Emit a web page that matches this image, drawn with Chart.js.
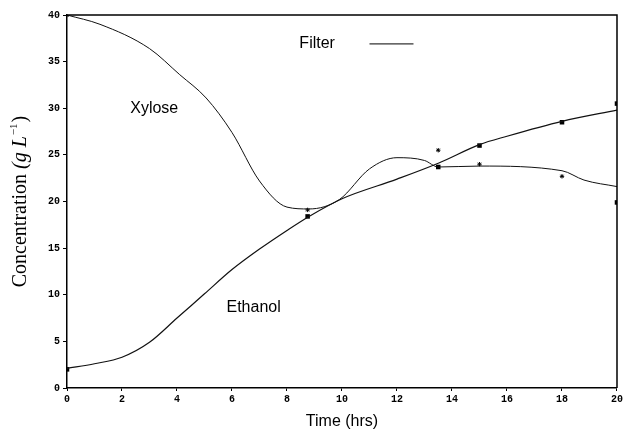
<!DOCTYPE html>
<html lang="en">
<head>
<meta charset="UTF-8">
<title>Xylose / Ethanol - Filter</title>
<script src="https://cdn.jsdelivr.net/npm/chart.js"></script>
<style>
body { margin: 0; padding: 0; background: #fff; }
#wrap { width: 625px; height: 431px; position: relative; }
</style>
</head>
<body>
<div id="wrap"><canvas id="chartContainer"></canvas></div>
<script>
// fitted curves
var xyloseTime = [0, 1.2, 3, 4.1, 5.06, 6, 7, 8, 8.8, 9.9, 11, 12, 13, 13.5, 15, 18, 18.8, 20];
var xyloseConc = [40, 39.0, 36.4, 33.6, 31.1, 27.4, 22.2, 19.4, 19.2, 20.2, 23.5, 24.7, 24.4, 23.7, 23.8, 23.3, 22.3, 21.6];

var ethanolTime = [0, 1, 2, 3, 4, 5, 6, 7, 8, 8.8, 10, 12, 13.5, 15, 16, 18, 20];
var ethanolConc = [2.1, 2.6, 3.3, 4.9, 7.5, 10.1, 12.7, 14.9, 16.9, 18.4, 20.3, 22.4, 24.1, 26.1, 27.0, 28.6, 29.8];

// measured points: filled squares and small stars
var squareTime = [0, 8.75, 13.5, 15, 18, 20, 20];
var squareConc = [2, 18.4, 23.7, 26.0, 28.5, 30.5, 19.9];
var starTime = [0, 8.75, 13.5, 15, 18];
var starConc = [40, 19.1, 25.5, 24.0, 22.7];

var xTicks = [0, 2, 4, 6, 8, 10, 12, 14, 16, 18, 20];

function pts(xs, ys) {
    return xs.map(function (x, i) { return { x: x, y: ys[i] }; });
}

// text labels, y title and the box round the plot
var notes = {
    id: 'notes',
    afterDatasetsDraw: function (chart) {
        var ctx = chart.ctx, xs = chart.scales.x, ys = chart.scales.y;
        var a = chart.chartArea;
        ctx.save();
        ctx.strokeStyle = '#000';
        ctx.lineWidth = 1.5;
        ctx.beginPath();
        ctx.moveTo(a.left, a.top);
        ctx.lineTo(a.right, a.top);
        ctx.lineTo(a.right, a.bottom);
        ctx.stroke();

        ctx.fillStyle = '#000';
        ctx.font = '16px "Liberation Sans", Arial, sans-serif';
        ctx.textBaseline = 'middle';
        ctx.textAlign = 'left';
        ctx.fillText('Xylose', xs.getPixelForValue(2.3), ys.getPixelForValue(30.0));
        ctx.fillText('Ethanol', xs.getPixelForValue(5.8), ys.getPixelForValue(8.6));
        ctx.fillText('Filter', xs.getPixelForValue(8.45), ys.getPixelForValue(36.9));
        ctx.lineWidth = 1;
        ctx.beginPath();
        ctx.moveTo(xs.getPixelForValue(11.0), ys.getPixelForValue(36.9));
        ctx.lineTo(xs.getPixelForValue(12.6), ys.getPixelForValue(36.9));
        ctx.stroke();

        // y title: upright word, italic unit
        var serif = '"Liberation Serif", "Times New Roman", serif';
        var p1 = 'Concentration ', p2 = '(g L', p3 = '\u2212', p4 = '1', p5 = ')';
        ctx.font = '20px ' + serif;
        var w1 = ctx.measureText(p1).width;
        ctx.font = 'italic 20px ' + serif;
        var w2 = ctx.measureText(p2).width;
        ctx.font = '11px ' + serif;
        var w3 = ctx.measureText(p3 + p4).width;
        ctx.font = '20px ' + serif;
        var w5 = ctx.measureText(p5).width;
        var total = w1 + w2 + w3 + 2 + w5;
        ctx.translate(26, (a.top + a.bottom) / 2);
        ctx.rotate(-Math.PI / 2);
        ctx.textBaseline = 'alphabetic';
        var x = -total / 2;
        ctx.font = '20px ' + serif;
        ctx.fillText(p1, x, 0); x += w1;
        ctx.font = 'italic 20px ' + serif;
        ctx.fillText(p2, x, 0); x += w2 + 1;
        ctx.font = '11px ' + serif;
        ctx.fillText(p3 + p4, x, -9); x += w3 + 1;
        ctx.font = '20px ' + serif;
        ctx.fillText(p5, x, 0);
        ctx.restore();
    }
};

var ctx = document.getElementById('chartContainer').getContext('2d');
var myChart = new Chart(ctx, {
    type: 'line',
    data: {
        datasets: [{
            label: 'Xylose',
            data: pts(xyloseTime, xyloseConc),
            borderColor: '#111',
            borderWidth: 1,
            pointRadius: 0,
            cubicInterpolationMode: 'monotone',
            fill: false
        }, {
            label: 'Ethanol',
            data: pts(ethanolTime, ethanolConc),
            borderColor: '#111',
            borderWidth: 1.2,
            pointRadius: 0,
            cubicInterpolationMode: 'monotone',
            fill: false
        }, {
            label: 'squares',
            type: 'scatter',
            data: pts(squareTime, squareConc),
            pointStyle: 'rect',
            pointRadius: 3.2,
            backgroundColor: '#000',
            borderColor: '#000',
            borderWidth: 0
        }, {
            label: 'stars',
            type: 'scatter',
            data: pts(starTime, starConc),
            pointStyle: 'star',
            pointRadius: 2.2,
            backgroundColor: '#000',
            borderColor: '#000',
            borderWidth: 1
        }]
    },
    options: {
        responsive: true,
        maintainAspectRatio: false,
        animation: false,
        layout: { padding: { top: 15, right: 4, left: 0, bottom: 0 } },
        plugins: {
            legend: { display: false },
            tooltip: { enabled: false }
        },
        scales: {
            x: {
                type: 'linear',
                min: 0,
                max: 20,
                afterBuildTicks: function (axis) {
                    axis.ticks = xTicks.map(function (v) { return { value: v }; });
                },
                ticks: {
                    color: '#000',
                    padding: 2,
                    maxRotation: 0,
                    font: { family: '"Liberation Mono", monospace', size: 10, weight: 'bold' }
                },
                grid: { display: true, drawOnChartArea: false, drawTicks: true, tickLength: 3, color: '#000' },
                border: { display: true, color: '#000', width: 1.5 },
                title: {
                    display: true,
                    text: 'Time (hrs)',
                    color: '#000',
                    padding: { top: 1, bottom: 0 },
                    font: { family: '"Liberation Sans", Arial, sans-serif', size: 16 }
                },
                afterFit: function (axis) { axis.height = 43; }
            },
            y: {
                min: 0,
                max: 40,
                ticks: {
                    stepSize: 5,
                    color: '#000',
                    padding: 3,
                    font: { family: '"Liberation Mono", monospace', size: 10, weight: 'bold' }
                },
                grid: { display: true, drawOnChartArea: false, drawTicks: true, tickLength: 4, color: '#000' },
                border: { display: true, color: '#000', width: 1.5 },
                afterFit: function (axis) { axis.width = 67; }
            }
        }
    },
    plugins: [notes]
});
</script>
</body>
</html>
